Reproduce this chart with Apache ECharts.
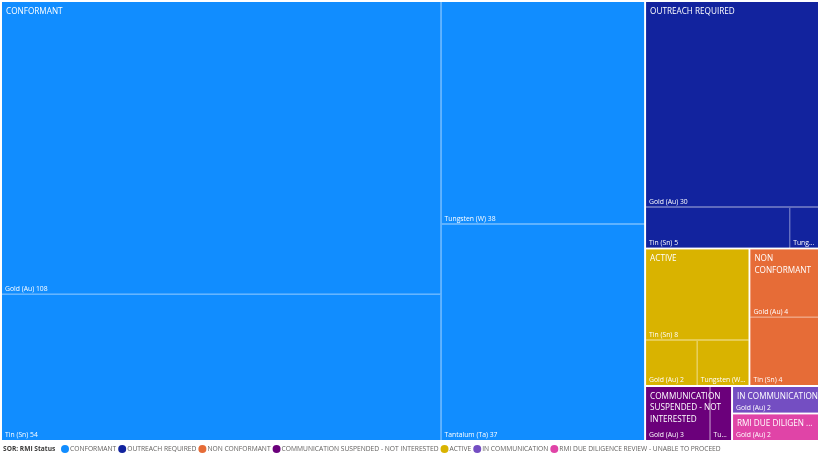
<!DOCTYPE html>
<html><head><meta charset="utf-8">
<script src="https://cdn.jsdelivr.net/npm/echarts@6/dist/echarts.min.js"></script>
<style>html,body{margin:0;padding:0;background:#fff}#chart{width:820px;height:456px}</style>
</head><body><div id="chart"></div>
<script>
// ---- data ----
const statusNames = ['CONFORMANT','OUTREACH REQUIRED','NON CONFORMANT','COMMUNICATION SUSPENDED - NOT INTERESTED','ACTIVE','IN COMMUNICATION','RMI DUE DILIGENCE REVIEW - UNABLE TO PROCEED'];
const statusColors = ['#118DFF','#12239E','#E66C37','#6B007B','#D9B300','#744EC2','#E044A7'];

const conformantMetals = ['Gold (Au)','Tin (Sn)','Tungsten (W)','Tantalum (Ta)'];
const conformantValues = [108,54,38,37];
const outreachMetals = ['Gold (Au)','Tin (Sn)','Tungsten (W)'];
const outreachValues = [30,5,1];
const nonConformantMetals = ['Gold (Au)','Tin (Sn)'];
const nonConformantValues = [4,4];
const suspendedMetals = ['Gold (Au)','Tungsten (W)'];
const suspendedValues = [3,1];
const activeMetals = ['Tin (Sn)','Gold (Au)','Tungsten (W)'];
const activeValues = [8,2,2];
const inCommMetals = ['Gold (Au)'];
const inCommValues = [2];
const rmiMetals = ['Gold (Au)'];
const rmiValues = [2];

const legendTitle = 'SOR: RMI Status';

// ---- build ----
const metalsByStatus = [conformantMetals,outreachMetals,nonConformantMetals,suspendedMetals,activeMetals,inCommMetals,rmiMetals];
const valuesByStatus = [conformantValues,outreachValues,nonConformantValues,suspendedValues,activeValues,inCommValues,rmiValues];

function blend(hex, t){
  const n = parseInt(hex.slice(1),16);
  const r=(n>>16)&255,g=(n>>8)&255,b=n&255;
  const f=c=>Math.round(c+(255-c)*t);
  return 'rgb('+f(r)+','+f(g)+','+f(b)+')';
}

const groups = statusNames.map((name,i)=>({
  name, color: statusColors[i],
  total: valuesByStatus[i].reduce((a,b)=>a+b,0),
  children: metalsByStatus[i].map((m,j)=>({name:m, value:valuesByStatus[i][j]}))
}));
const ordered = groups.slice().sort((a,b)=>b.total-a.total);
const truncateGroups = ['RMI DUE DILIGENCE REVIEW - UNABLE TO PROCEED'];

const FONT = '"Open Sans", "Noto Sans", sans-serif';
const box = {left:2, top:2, right:2, bottom:16};

const treeData = ordered.map(g=>({
  name:g.name,
  itemStyle:{color:g.color, borderColor:blend(g.color,0.3)},
  children:g.children
}));
const groupData = ordered.map(g=>{
  const d = {name:g.name, value:g.total};
  if (truncateGroups.includes(g.name)) d.label = {overflow:'truncate', ellipsis:' ...'};
  return d;
});

const chart = echarts.init(document.getElementById('chart'), null, {renderer:'canvas'});
chart.setOption({
  animation:false,
  title:{text:legendTitle, left:3, top:445, padding:0,
    textStyle:{fontFamily:FONT, fontSize:6.6, lineHeight:8, fontWeight:'bold', color:'#3b3a39'}},
  legend:{
    data:statusNames, left:61, top:445, width:760, padding:0, icon:'circle', itemWidth:8, itemHeight:8, itemGap:2,
    textStyle:{fontFamily:FONT, fontSize:6.7, color:'#605E5C', padding:[0,0,0,-4]}, selectedMode:false
  },
  series:[
    {
      type:'treemap', ...box, sort:false, roam:false, nodeClick:false, z:2,
      breadcrumb:{show:false}, silent:true,
      label:{show:true, position:'insideBottomLeft', formatter:'{b} {c}', color:'#fff',
        fontFamily:FONT, fontSize:6.8, padding:[0,1,1,3], overflow:'truncate', ellipsis:'...'},
      levels:[
        {itemStyle:{borderColor:'#fff', borderWidth:0, gapWidth:2}},
        {itemStyle:{borderWidth:0, gapWidth:1}},
        {itemStyle:{borderWidth:0, gapWidth:0}}
      ],
      data:treeData
    },
    {
      type:'treemap', ...box, sort:false, roam:false, nodeClick:false, z:10,
      breadcrumb:{show:false}, silent:true,
      label:{show:true, position:'insideTopLeft', formatter:'{b}', color:'#fff',
        fontFamily:FONT, fontSize:8.2, lineHeight:11.5, padding:[3.5,0,0,4], overflow:'break'},
      itemStyle:{color:'rgba(0,0,0,0)', borderColor:'rgba(0,0,0,0)', borderWidth:0},
      levels:[
        {itemStyle:{borderColor:'rgba(0,0,0,0)', borderWidth:0, gapWidth:2}},
        {itemStyle:{color:'rgba(0,0,0,0)', borderColor:'rgba(0,0,0,0)', borderWidth:0}}
      ],
      data:groupData
    },
    {
      type:'pie', radius:[0,0], center:[-50,-50], silent:true,
      label:{show:false}, labelLine:{show:false},
      data:groups.map(g=>({name:g.name, value:g.total, itemStyle:{color:g.color}}))
    }
  ]
});
</script></body></html>
